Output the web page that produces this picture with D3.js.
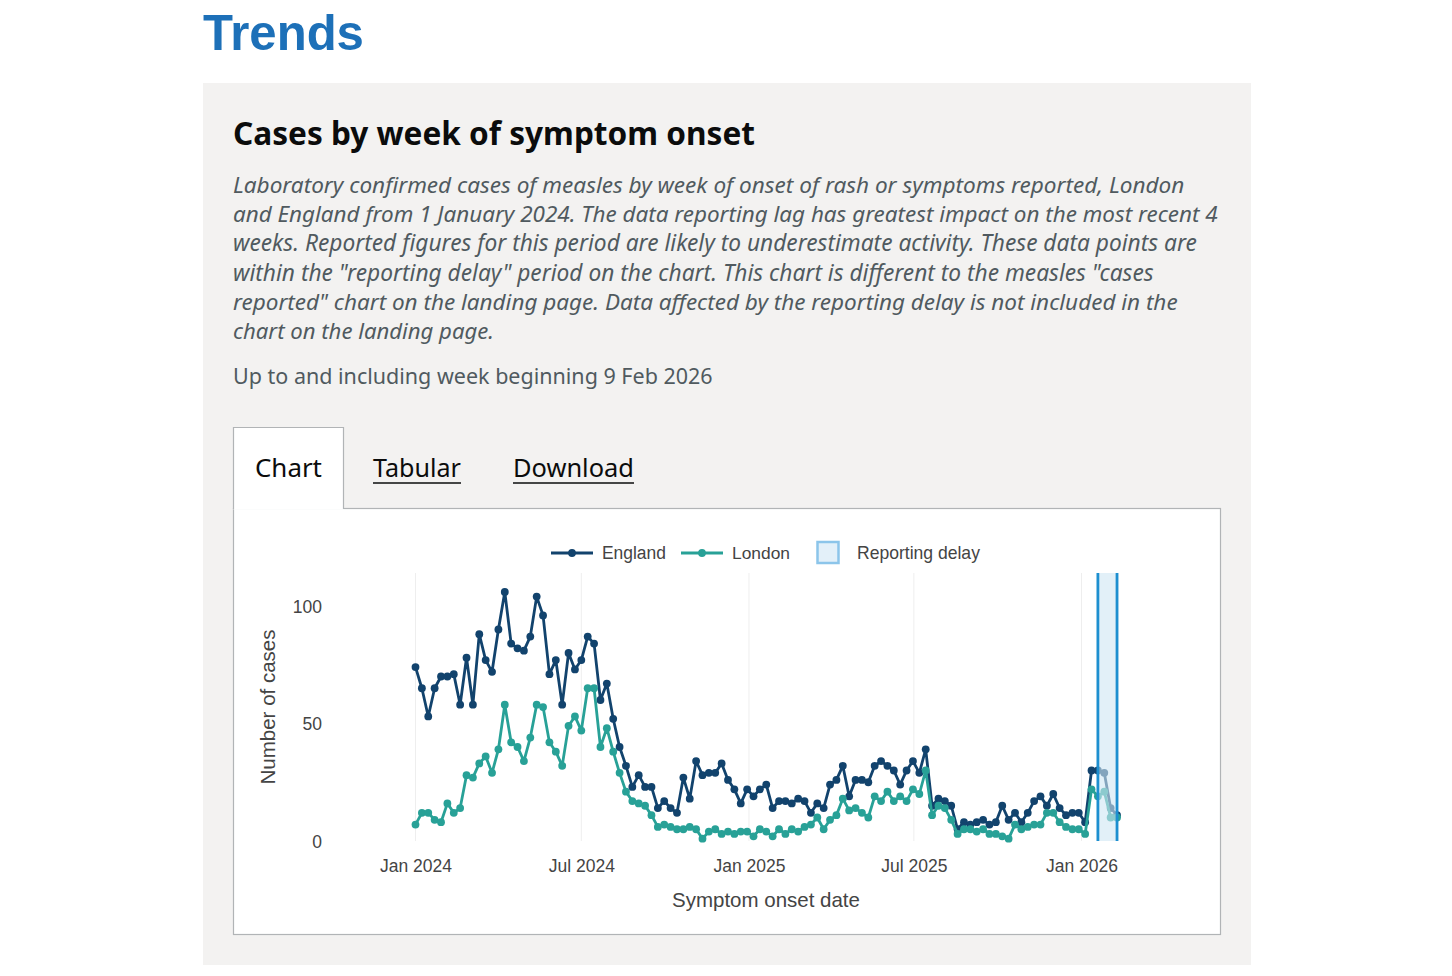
<!DOCTYPE html>
<html>
<head>
<meta charset="utf-8">
<script src="https://cdn.jsdelivr.net/npm/d3@7"></script>
<style>
  html, body { margin: 0; padding: 0; background: #ffffff; }
  svg { display: block; }
</style>
</head>
<body>
<script>
// ---------------- DATA ----------------
const seriesNames = ["England", "London"];
const firstWeek = "2024-01-01";
const lastWeek = "2026-02-09";
const englandCases = [
  74, 65, 53, 65, 70, 70, 71, 58, 78, 58,
  88, 77, 72, 90, 106, 84, 82, 81, 87, 104,
  96, 71, 77, 58, 80, 73, 77, 87, 84, 60,
  67, 52, 40, 32, 23, 28, 23, 23, 14, 17,
  14, 12, 27, 18, 34, 28, 29, 29, 33, 26,
  22, 16, 22, 19, 22, 24, 14, 17, 17, 16,
  18, 17, 12, 16, 14, 24, 26, 32, 19, 26,
  26, 25, 32, 34, 32, 30, 24, 30, 34, 29,
  39, 15, 18, 17, 15, 5, 8, 7, 8, 9,
  7, 8, 15, 9, 12, 8, 12, 17, 19, 15,
  20, 14, 11, 12, 12, 8, 30, 30, 29, 14,
  11
];
const londonCases = [
  7, 12, 12, 9, 8, 16, 12, 14, 28, 27,
  33, 36, 29, 39, 58, 42, 40, 34, 44, 58,
  57, 42, 38, 32, 49, 53, 47, 65, 65, 40,
  48, 38, 29, 21, 17, 16, 15, 11, 6, 7,
  6, 5, 5, 6, 5, 1, 4, 5, 3, 4,
  3, 4, 4, 2, 5, 4, 2, 5, 3, 5,
  4, 6, 7, 10, 5, 9, 11, 18, 13, 14,
  12, 10, 19, 17, 21, 17, 19, 17, 22, 20,
  30, 11, 15, 14, 9, 3, 5, 5, 4, 5,
  3, 3, 2, 1, 7, 5, 6, 7, 7, 12,
  12, 8, 6, 5, 5, 3, 22, 19, 21, 10,
  10
];
const delayStart = "2026-01-19";
const delayEnd = "2026-02-09";
const xTickDates = ["2024-01-01", "2024-07-01", "2025-01-01", "2025-07-01", "2026-01-01"];
const xTickLabels = ["Jan 2024", "Jul 2024", "Jan 2025", "Jul 2025", "Jan 2026"];
const yTickValues = [0, 50, 100];
const descriptionLines = [
  "Laboratory confirmed cases of measles by week of onset of rash or symptoms reported, London",
  "and England from 1 January 2024. The data reporting lag has greatest impact on the most recent 4",
  "weeks. Reported figures for this period are likely to underestimate activity. These data points are",
  "within the \"reporting delay\" period on the chart. This chart is different to the measles \"cases",
  "reported\" chart on the landing page. Data affected by the reporting delay is not included in the",
  "chart on the landing page."
];

// ---------------- SETUP ----------------
const parse = d3.timeParse("%Y-%m-%d");
const weeks = d3.timeMonday.range(parse(firstWeek), d3.timeDay.offset(parse(lastWeek), 1));
const englandData = weeks.map((d, i) => ({ date: d, value: englandCases[i] }));
const londonData = weeks.map((d, i) => ({ date: d, value: londonCases[i] }));

const W = 1452, H = 976;
const svg = d3.select("body").append("svg").attr("width", W).attr("height", H);

const pageFont = "'Noto Sans', 'Open Sans', Arial, sans-serif";
const chartFont = "'Liberation Sans', Arial, Helvetica, sans-serif";

function addText(g, o) {
  const t = g.append("text")
    .attr("x", o.x).attr("y", o.y)
    .attr("font-family", o.family || pageFont)
    .attr("font-size", o.size)
    .attr("font-weight", o.weight || "normal")
    .attr("font-style", o.style || "normal")
    .attr("fill", o.fill || "#0b0c0c")
    .attr("text-anchor", o.anchor || "start")
    .text(o.text);
  if (o.width) {
    const w = t.node().getComputedTextLength();
    if (w > 0) t.attr("font-size", o.size * o.width / w);
  }
  if (o.transform) t.attr("transform", o.transform);
  return t;
}

svg.append("rect").attr("width", W).attr("height", H).attr("fill", "#ffffff");

// Grey panel
svg.append("rect").attr("x", 203).attr("y", 83).attr("width", 1048).attr("height", 882).attr("fill", "#f3f2f1");

// Headings
addText(svg, { x: 203, y: 50, text: "Trends", size: 50, weight: "bold", fill: "#1d70b8", width: 161, family: chartFont });
addText(svg, { x: 233, y: 145, text: "Cases by week of symptom onset", size: 32, weight: "bold", fill: "#0b0c0c", width: 522 });

const descWidths = [952, 985, 964, 921, 945, 261];
descriptionLines.forEach((line, i) => {
  addText(svg, { x: 233, y: 193 + i * 29.2, text: line, size: 22, style: "italic", fill: "#505a5f", width: descWidths[i] });
});
addText(svg, { x: 233, y: 384, text: "Up to and including week beginning 9 Feb 2026", size: 22, fill: "#505a5f", width: 480 });

// Chart container + tabs
const border = "#b1b4b6";
svg.append("rect").attr("x", 233.5).attr("y", 508.5).attr("width", 987).attr("height", 426)
  .attr("fill", "#ffffff").attr("stroke", border).attr("stroke-width", 1.2);
svg.append("rect").attr("x", 233.5).attr("y", 427.5).attr("width", 110).attr("height", 82).attr("fill", "#ffffff");
svg.append("path").attr("d", "M233.5,509 L233.5,427.5 L343.5,427.5 L343.5,509")
  .attr("fill", "none").attr("stroke", border).attr("stroke-width", 1.2);

addText(svg, { x: 255, y: 477, text: "Chart", size: 26, fill: "#0b0c0c", width: 67 });
const tabItems = [{ t: "Tabular", x: 373, w: 88 }, { t: "Download", x: 513, w: 121 }];
tabItems.forEach(d => {
  addText(svg, { x: d.x, y: 477, text: d.t, size: 26, fill: "#0b0c0c", width: d.w });
  svg.append("line").attr("x1", d.x).attr("x2", d.x + d.w).attr("y1", 483).attr("y2", 483)
    .attr("stroke", "#0b0c0c").attr("stroke-width", 1.6);
});

// ---------------- CHART ----------------
const colEngland = "#12436d";
const colLondon = "#28a197";
const tickCol = "#444444";

const x = d3.scaleTime()
  .domain([parse("2024-01-01"), parse("2026-01-01")])
  .range([415.5, 1081.5]);
const y = d3.scaleLinear().domain([0, 100]).range([841, 606]);
const plotTop = 573, plotBottom = 841;

const chart = svg.append("g");

// Vertical grid lines
chart.append("g").selectAll("line")
  .data(xTickDates.map(parse))
  .join("line")
  .attr("x1", d => x(d)).attr("x2", d => x(d))
  .attr("y1", plotTop).attr("y2", plotBottom)
  .attr("stroke", "#eeeeee").attr("stroke-width", 1);

// X axis (labels only)
const xAxis = d3.axisBottom(x)
  .tickValues(xTickDates.map(parse))
  .tickFormat((d, i) => xTickLabels[i])
  .tickSize(0).tickPadding(0);
const gx = chart.append("g").attr("transform", `translate(0,${plotBottom})`).call(xAxis);
gx.select(".domain").remove();
gx.selectAll("text").attr("font-family", chartFont).attr("font-size", 17.5).attr("fill", tickCol)
  .attr("dy", 0).attr("y", 31);

// Y axis (labels only)
const yAxis = d3.axisLeft(y).tickValues(yTickValues).tickFormat(d3.format("d")).tickSize(0).tickPadding(0);
const gy = chart.append("g").attr("transform", "translate(322,0)").call(yAxis);
gy.select(".domain").remove();
gy.selectAll("text").attr("font-family", chartFont).attr("font-size", 17.5).attr("fill", tickCol)
  .attr("dy", "0.35em").attr("x", 0);

// Axis titles
addText(chart, { x: 766, y: 907, text: "Symptom onset date", size: 19.5, family: chartFont, fill: tickCol, anchor: "middle", width: 188 });
addText(chart, { x: 0, y: 0, text: "Number of cases", size: 18.5, family: chartFont, fill: tickCol, anchor: "middle", width: 155,
  transform: "translate(275,707) rotate(-90)" });

// Lines
const line = d3.line().x(d => x(d.date)).y(d => y(d.value));
[[englandData, colEngland], [londonData, colLondon]].forEach(([data, col]) => {
  chart.append("path").datum(data).attr("d", line)
    .attr("fill", "none").attr("stroke", col).attr("stroke-width", 2.8).attr("stroke-linejoin", "round");
  chart.append("g").selectAll("circle").data(data).join("circle")
    .attr("cx", d => x(d.date)).attr("cy", d => y(d.value)).attr("r", 3.9).attr("fill", col);
});

// Reporting delay overlay
const dx0 = x(parse(delayStart)), dx1 = x(parse(delayEnd));
chart.append("rect").attr("x", dx0).attr("y", plotTop).attr("width", dx1 - dx0).attr("height", plotBottom - plotTop)
  .attr("fill", "#cfe6f4").attr("opacity", 0.6);
[dx0, dx1].forEach(xx => {
  chart.append("line").attr("x1", xx).attr("x2", xx).attr("y1", plotTop).attr("y2", plotBottom)
    .attr("stroke", "#1d8fd0").attr("stroke-width", 2.8);
});

// Legend
const lg = chart.append("g");
const legendY = 553;
[{ name: seriesNames[0], col: colEngland, x0: 551, tx: 602, w: 64 }, { name: seriesNames[1], col: colLondon, x0: 681, tx: 732, w: 58 }]
  .forEach(d => {
    lg.append("line").attr("x1", d.x0).attr("x2", d.x0 + 42).attr("y1", legendY).attr("y2", legendY)
      .attr("stroke", d.col).attr("stroke-width", 2.8);
    lg.append("circle").attr("cx", d.x0 + 21).attr("cy", legendY).attr("r", 3.9).attr("fill", d.col);
    addText(lg, { x: d.tx, y: legendY + 6, text: d.name, size: 16.5, family: chartFont, fill: tickCol, width: d.w });
  });
lg.append("rect").attr("x", 817.5).attr("y", 542).attr("width", 21).attr("height", 21)
  .attr("fill", "#e3f0f9").attr("stroke", "#8cc5ea").attr("stroke-width", 2.5);
addText(lg, { x: 857, y: legendY + 6, text: "Reporting delay", size: 16.5, family: chartFont, fill: tickCol, width: 123 });
</script>
</body>
</html>
